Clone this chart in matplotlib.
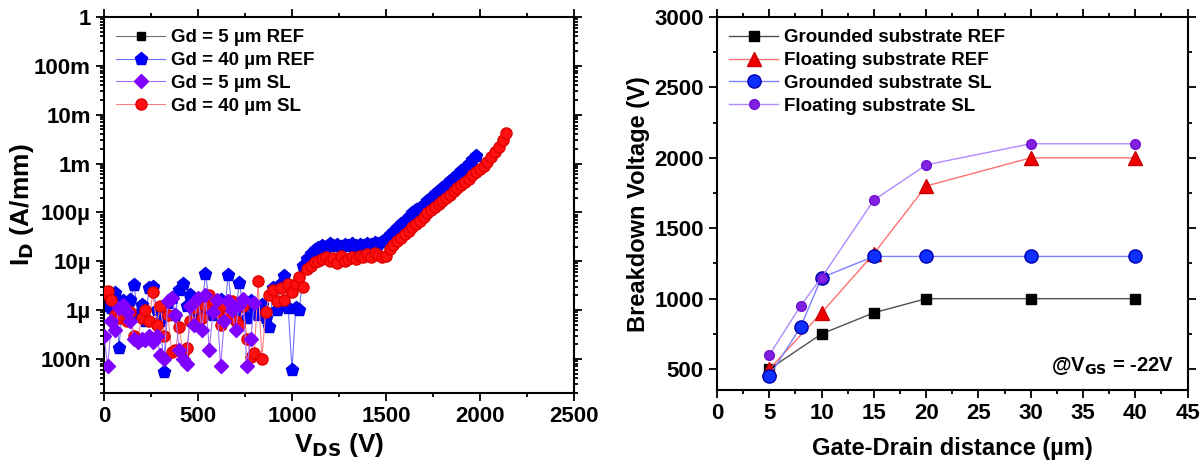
import matplotlib
matplotlib.use("Agg")
import matplotlib.pyplot as plt
from matplotlib.ticker import FixedLocator, MultipleLocator, LogLocator, NullFormatter

plt.rcParams["font.family"] = ["Liberation Sans", "DejaVu Sans"]
plt.rcParams["font.weight"] = "bold"
plt.rcParams["mathtext.default"] = "bf"

# ============================================================
# Left panel data: off-state leakage I_D vs V_DS
# ============================================================
ref5_v = []
ref5_i = []

ref40_v = list(range(0, 1981, 20))
ref40_i = [
    1.2e-6, 1.5e-6, 1.1e-6, 2.2e-6, 1.7e-7, 1.5e-6, 1.2e-6, 1.6e-6, 3.2e-6, 8e-7,
    1.3e-6, 6e-7, 2.8e-6, 3e-6, 1e-6, 6e-7, 5.5e-8, 1.4e-6, 1.8e-6, 8e-7,
    2.6e-6, 3.4e-6, 1.2e-6, 2e-6, 9e-7, 6e-7, 1e-6, 5.6e-6, 1.5e-6, 8e-7,
    1.2e-6, 1.6e-6, 7e-7, 5.3e-6, 1.3e-6, 9e-7, 3.6e-6, 1.2e-6, 7e-7, 1.5e-6,
    1.1e-6, 8e-7, 1.3e-6, 7e-7, 4.5e-7, 2.8e-6, 1e-6, 3.5e-6, 5e-6, 1.1e-6,
    6e-8, 1.1e-6, 1e-6, 8e-6, 1.1e-5, 1.4e-5, 1.7e-5, 1.9e-5, 2.1e-5, 2e-5,
    2.3e-5, 2.1e-5, 2.2e-5, 2e-5, 2.2e-5, 2.1e-5, 2.3e-5, 2.1e-5, 2.2e-5, 2.1e-5,
    2.3e-5, 2.2e-5, 2.4e-5, 2.3e-5, 2.5e-5, 2.8e-5, 3.4e-5, 4e-5, 4.8e-5, 5.7e-5,
    6.8e-5, 8e-5, 9.5e-5, 1.1e-4, 1.25e-4, 1.45e-4, 1.7e-4, 2e-4, 2.35e-4, 2.75e-4,
    3.2e-4, 3.7e-4, 4.3e-4, 5e-4, 5.9e-4, 7e-4, 8.3e-4, 1e-3, 1.2e-3, 1.45e-3,
]

sl5_v = list(range(0, 801, 20))
sl5_i = [
    3e-7, 7e-8, 6e-7, 4e-7, 1.1e-6, 1.3e-6, 9e-7, 6e-7, 2.5e-7, 2.2e-7,
    2.6e-7, 2.4e-7, 3e-7, 2.2e-7, 3e-7, 1.2e-7, 1e-7, 1.5e-6, 1.8e-6, 8e-7,
    1.5e-7, 1e-7, 8e-8, 1.2e-6, 5e-7, 1.8e-6, 4e-7, 2e-6, 1.5e-7, 9e-7,
    1.6e-6, 7e-8, 6e-7, 1.5e-6, 1e-6, 4e-7, 1.3e-6, 1.7e-6, 7e-8, 2.5e-7,
    1.4e-6,
]

sl40_v = list(range(0, 2141, 20))
sl40_i = [
    2.2e-6, 2.5e-6, 1.6e-6, 8e-7, 7e-7, 1.1e-6, 6e-7, 9e-7, 3e-7, 2.6e-7,
    7e-7, 1e-6, 6e-7, 2.4e-6, 5e-7, 1.2e-6, 3e-7, 8e-7, 1.4e-7, 1.5e-7,
    4.5e-7, 1.3e-7, 1.7e-7, 6e-7, 1.1e-6, 1.4e-6, 7e-7, 1.2e-6, 2e-6, 1.6e-6,
    9e-7, 5e-7, 1.3e-6, 8e-7, 1.5e-6, 6e-7, 5e-7, 1.2e-6, 2.6e-7, 1.1e-7,
    1.3e-7, 3.9e-6, 1e-7, 9e-7, 2e-6, 2.6e-6, 1.5e-6, 2.8e-6, 1.6e-6, 3.5e-6,
    2.4e-6, 3.5e-6, 4.8e-6, 3e-6, 7e-6, 8e-6, 9.5e-6, 1e-5, 1.1e-5, 1.25e-5,
    1e-5, 1.15e-5, 9e-6, 1.3e-5, 1e-5, 1.1e-5, 1.2e-5, 1.1e-5, 1.3e-5, 1.25e-5,
    1.4e-5, 1.2e-5, 1.5e-5, 1.35e-5, 1.25e-5, 1.3e-5, 1.8e-5, 2.2e-5, 2.6e-5, 3e-5,
    3.6e-5, 4.2e-5, 5e-5, 5.8e-5, 6.8e-5, 8e-5, 9.5e-5, 1.1e-4, 1.3e-4, 1.5e-4,
    1.75e-4, 2e-4, 2.3e-4, 2.7e-4, 3.1e-4, 3.6e-4, 4.2e-4, 4.9e-4, 5.7e-4, 6.6e-4,
    7.6e-4, 9e-4, 1.1e-3, 1.35e-3, 1.7e-3, 2.2e-3, 3e-3, 4.2e-3,
]

id_ticks = [1e-7, 1e-6, 1e-5, 1e-4, 1e-3, 1e-2, 1e-1, 1]
id_tick_labels = ["100n", "1µ", "10µ", "100µ", "1m", "10m", "100m", "1"]

# ============================================================
# Right panel data: breakdown voltage vs gate-drain distance
# ============================================================
gnd_ref_x = [5, 10, 15, 20, 30, 40]
gnd_ref_bv = [500, 750, 900, 1000, 1000, 1000]

flt_ref_x = [5, 10, 15, 20, 30, 40]
flt_ref_bv = [500, 900, 1320, 1800, 2000, 2000]

gnd_sl_x = [5, 8, 10, 15, 20, 30, 40]
gnd_sl_bv = [450, 800, 1150, 1300, 1300, 1300, 1300]

flt_sl_x = [5, 8, 10, 15, 20, 30, 40]
flt_sl_bv = [600, 950, 1150, 1700, 1950, 2100, 2100]

# ============================================================
# Figure
# ============================================================
fig = plt.figure(figsize=(12.02, 4.73), dpi=100)
ax1 = fig.add_axes([0.0865, 0.169, 0.391, 0.795])
ax2 = fig.add_axes([0.5965, 0.175, 0.3915, 0.789])

LEG = dict(loc="upper left", frameon=False, handlelength=2.6,
           handletextpad=0.3, labelspacing=0.3, borderaxespad=0.25,
           prop={"weight": "bold", "size": 13.5})


def style_axes(ax):
    for s in ax.spines.values():
        s.set_linewidth(1.5)
    ax.tick_params(which="both", direction="out", width=1.3,
                   top=True, right=True, labelsize=16)
    ax.tick_params(which="major", length=6)
    ax.tick_params(which="minor", length=3)


# ---- left
ax1.plot(ref5_v, ref5_i, "-s", color="#707070", mfc="black", mec="black",
         ms=6, lw=0.8, label="Gd = 5 µm REF", zorder=1)
ax1.plot(ref40_v, ref40_i, "-p", color="#6f6fff", mfc="#0000ff", mec="#0000e0",
         ms=9.5, lw=0.8, label="Gd = 40 µm REF", zorder=2)
ax1.plot(sl5_v, sl5_i, "-D", color="#a070ff", mfc="#7f00ff", mec="#7f00ff",
         ms=7, lw=0.8, label="Gd = 5 µm SL", zorder=4)
ax1.plot(sl40_v, sl40_i, "-o", color="#ff8080", mfc="#ff1010", mec="#e00000",
         ms=8, lw=0.8, label="Gd = 40 µm SL", zorder=3)

ax1.set_yscale("log")
ax1.set_xlim(0, 2500)
ax1.set_ylim(2e-8, 1)
ax1.yaxis.set_major_locator(FixedLocator(id_ticks))
ax1.set_yticklabels(id_tick_labels)
ax1.yaxis.set_minor_locator(LogLocator(base=10, subs=range(2, 10), numticks=20))
ax1.yaxis.set_minor_formatter(NullFormatter())
ax1.xaxis.set_major_locator(MultipleLocator(500))
ax1.xaxis.set_minor_locator(MultipleLocator(250))
style_axes(ax1)

ax1.set_xlabel("V$_{DS}$ (V)", fontsize=19, fontweight="bold")
ax1.set_ylabel("I$_D$ (A/mm)", fontsize=19, fontweight="bold")
ax1.xaxis.set_label_coords(0.5, -0.1)
ax1.yaxis.set_label_coords(-0.145, 0.5)
ax1.legend(**LEG)

# ---- right
ax2.plot(gnd_ref_x, gnd_ref_bv, "-s", color="#505050", mfc="black", mec="black",
         ms=7.5, lw=1.0, label="Grounded substrate REF", zorder=2)
ax2.plot(flt_ref_x, flt_ref_bv, "-^", color="#ff7070", mfc="#ee0000", mec="#cc0000",
         ms=10, lw=1.0, label="Floating substrate REF", zorder=3)
ax2.plot(gnd_sl_x, gnd_sl_bv, "-o", color="#7f7fff", mfc="#1030ff", mec="#0000b0",
         ms=9.5, lw=1.0, label="Grounded substrate SL", zorder=4)
ax2.plot(flt_sl_x, flt_sl_bv, "-o", color="#b08aff", mfc="#8020e0", mec="#7010d0",
         ms=7, lw=1.0, label="Floating substrate SL", zorder=5)

ax2.set_xlim(0, 45)
ax2.set_ylim(350, 3000)
ax2.xaxis.set_major_locator(MultipleLocator(5))
ax2.xaxis.set_minor_locator(MultipleLocator(2.5))
ax2.yaxis.set_major_locator(MultipleLocator(500))
ax2.yaxis.set_minor_locator(MultipleLocator(250))
style_axes(ax2)

ax2.set_xlabel("Gate-Drain distance (µm)", fontsize=17, fontweight="bold")
ax2.set_ylabel("Breakdown Voltage (V)", fontsize=17, fontweight="bold")
ax2.xaxis.set_label_coords(0.5, -0.125)
ax2.yaxis.set_label_coords(-0.142, 0.5)
ax2.legend(**LEG)
ax2.text(0.97, 0.065, "@V$_{GS}$ = -22V", transform=ax2.transAxes,
         ha="right", va="center", fontsize=14.5, fontweight="bold")

fig.savefig("out.png", dpi=100)
